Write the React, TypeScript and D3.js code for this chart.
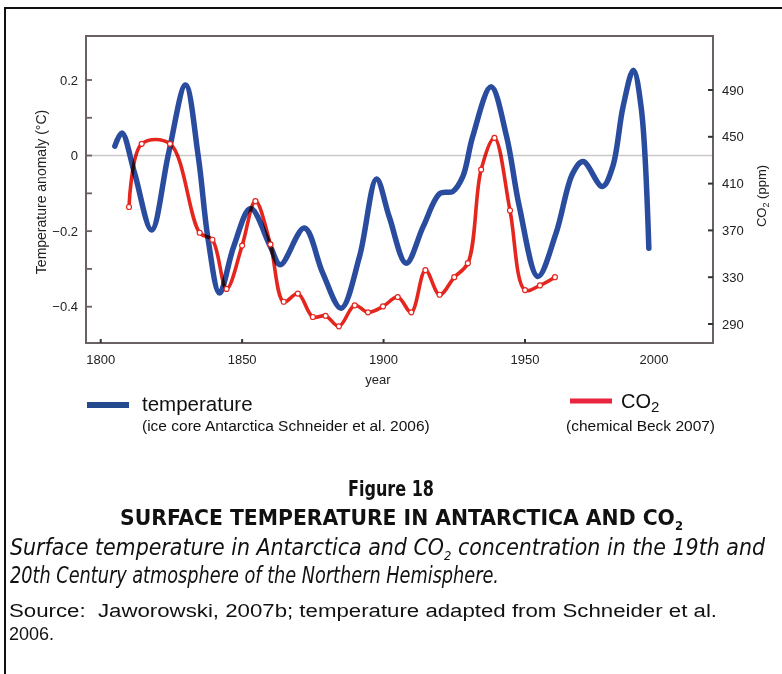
import * as d3 from "d3";

// temperature anomaly (°C), ice core Antarctica
const tempYears = [
  1805, 1807.5, 1812, 1818, 1824, 1830, 1834.5, 1838, 1842, 1847, 1853, 1860,
  1863.5, 1872, 1878.5, 1885, 1891.5, 1897.5, 1902, 1908, 1914, 1920, 1924.5,
  1928, 1931.5, 1938, 1943.5, 1948, 1955, 1962, 1968.5, 1972.5, 1980, 1984,
  1988, 1992, 1995, 1998,
];
const tempValues = [
  0.025, 0.06, -0.047, -0.197, 0.006, 0.187, -0.003, -0.223, -0.364, -0.241,
  -0.14, -0.241, -0.289, -0.192, -0.311, -0.404, -0.267, -0.062, -0.162,
  -0.285, -0.188, -0.1, -0.095, -0.056, 0.05, 0.182, 0.05, -0.135, -0.32,
  -0.206, -0.047, -0.016, -0.082, -0.029, 0.129, 0.226, 0.129, -0.245,
];

// CO2 (ppm), chemical measurements (Beck 2007)
const co2Years = [
  1810, 1814.5, 1824.5, 1835, 1839.5, 1844.5, 1850, 1854.7, 1860, 1864.7,
  1869.7, 1875, 1879.5, 1884.2, 1889.8, 1894.5, 1899.8, 1905, 1909.8, 1914.8,
  1919.8, 1925, 1929.8, 1934.5, 1939.2, 1944.7, 1950, 1955.8, 1961.6,
];
const co2Values = [
  390, 444, 444, 368, 362, 320, 357, 395, 358, 309, 316, 296, 297, 288, 306,
  300, 305, 313, 300, 336, 315, 330, 342, 422, 449, 387, 319, 323, 330,
];

const yearTicks = [1800, 1850, 1900, 1950];
const yearLabels = [1800, 1850, 1900, 1950, 2000];
const tempTicks = [0.2, 0.1, 0, -0.1, -0.2, -0.3, -0.4];
const tempLabels = [0.2, 0, -0.2, -0.4];
const co2Ticks = [490, 450, 410, 370, 330, 290];

const BLUE = "#2a4c9e";
const RED = "#e4261f";
const AXIS = "#6a6262";
const SANS = "'Liberation Sans', Arial, Helvetica, sans-serif";
const NARROW = "'Liberation Sans Narrow', 'DejaVu Sans Condensed', 'Liberation Sans', sans-serif";

const frame = { left: 86, right: 713, top: 36, bottom: 343 };

export default function App() {
  // the original x axis is not quite uniform past 1950
  const x = d3.scaleLinear().domain([1800, 1950, 2000]).range([100.7, 525, 654]);
  const yT = d3.scaleLinear().domain([0.2, -0.4]).range([80, 306.7]);
  const yC = d3.scaleLinear().domain([490, 290]).range([90, 324]);

  const tempPts = tempYears.map((yr, i) => [yr, tempValues[i]] as [number, number]);
  const co2Pts = co2Years.map((yr, i) => [yr, co2Values[i]] as [number, number]);

  const tempLine = d3
    .line<[number, number]>()
    .x((d) => x(d[0]))
    .y((d) => yT(d[1]))
    .curve(d3.curveCatmullRom.alpha(0.5));
  const co2Line = d3
    .line<[number, number]>()
    .x((d) => x(d[0]))
    .y((d) => yC(d[1]))
    .curve(d3.curveCatmullRom.alpha(0.5));

  const fmt = (v: number) => (v === 0 ? "0" : v < 0 ? "\u2212" + Math.abs(v).toFixed(1) : v.toFixed(1));

  return (
    <svg
      width={782}
      height={674}
      style={{ position: "absolute", left: 0, top: 0, background: "#fff" }}
    >
      <rect x={0} y={0} width={782} height={674} fill="#fff" />
      {/* page box, cut off at right and bottom */}
      <rect x={5} y={8} width={800} height={700} fill="none" stroke="#111" strokeWidth={2} />

      {/* zero reference line */}
      <line x1={frame.left} x2={frame.right} y1={yT(0)} y2={yT(0)} stroke="#c9c9c9" strokeWidth={1.5} />

      {/* plot frame */}
      <path
        d={`M${frame.left},${frame.bottom}V${frame.top}H${frame.right}V${frame.bottom}Z`}
        fill="none"
        stroke={AXIS}
        strokeWidth={2}
      />

      {/* left axis */}
      {tempTicks.map((t) => (
        <line key={t} x1={frame.left} x2={frame.left + 6} y1={yT(t)} y2={yT(t)} stroke={AXIS} strokeWidth={1.8} />
      ))}
      {tempLabels.map((t) => (
        <text key={t} x={78} y={yT(t)} dy="0.35em" textAnchor="end" fontFamily={SANS} fontSize={13} fill="#222">
          {fmt(t)}
        </text>
      ))}
      <text
        transform={`translate(46,192) rotate(-90)`}
        textAnchor="middle"
        fontFamily={SANS}
        fontSize={14}
        fill="#222"
      >
        Temperature anomaly (°C)
      </text>

      {/* right axis */}
      {co2Ticks.map((c) => (
        <line key={c} x1={frame.right - 5} x2={frame.right} y1={yC(c)} y2={yC(c)} stroke="#333" strokeWidth={2} />
      ))}
      {co2Ticks.map((c) => (
        <text key={c} x={722} y={yC(c)} dy="0.35em" fontFamily={SANS} fontSize={13} fill="#222">
          {c}
        </text>
      ))}
      <text transform={`translate(766,196) rotate(-90)`} textAnchor="middle" fontFamily={SANS} fontSize={13} fill="#222">
        CO
        <tspan dy={3} fontSize={9}>2</tspan>
        <tspan dy={-3}> (ppm)</tspan>
      </text>

      {/* bottom axis */}
      {yearTicks.map((yr) => (
        <line key={yr} x1={x(yr)} x2={x(yr)} y1={frame.bottom} y2={frame.bottom - 4} stroke="#333" strokeWidth={2} />
      ))}
      {yearLabels.map((yr) => (
        <text key={yr} x={x(yr)} y={359} dy="0.35em" textAnchor="middle" fontFamily={SANS} fontSize={13} fill="#222">
          {yr}
        </text>
      ))}
      <text x={378} y={379} dy="0.35em" textAnchor="middle" fontFamily={SANS} fontSize={13} fill="#222">
        year
      </text>

      {/* series */}
      <path d={tempLine(tempPts) ?? ""} fill="none" stroke={BLUE} strokeWidth={5.5} strokeLinecap="round" />
      <path
        d={co2Line(co2Pts) ?? ""}
        fill="none"
        stroke={RED}
        strokeWidth={3.6}
        strokeLinecap="round"
        style={{ mixBlendMode: "multiply" }}
      />
      {co2Pts.map((d, i) => (
        <circle key={i} cx={x(d[0])} cy={yC(d[1])} r={2.5} fill="#fff" stroke={RED} strokeWidth={1.2} />
      ))}

      {/* legend */}
      <line x1={87} x2={129} y1={405} y2={405} stroke="#234a8c" strokeWidth={6} />
      <text x={142} y={411} fontFamily={SANS} fontSize={20.5} fill="#111">
        temperature
      </text>
      <text x={142} y={431} fontFamily={SANS} fontSize={15.5} fill="#111">
        (ice core Antarctica Schneider et al. 2006)
      </text>
      <line x1={570} x2={612} y1={401} y2={401} stroke="#e8253d" strokeWidth={5} />
      <text x={621} y={408} fontFamily={SANS} fontSize={20} fill="#111">
        CO<tspan dy={4} fontSize={15}>2</tspan>
      </text>
      <text x={566} y={431} fontFamily={SANS} fontSize={15.5} fill="#111">
        (chemical Beck 2007)
      </text>

      {/* caption */}
      <text
        x={348}
        y={496}
        textLength={86}
        lengthAdjust="spacingAndGlyphs"
        fontFamily={NARROW}
        fontWeight="bold"
        fontSize={21}
        fill="#111"
      >
        Figure 18
      </text>
      <text
        x={120}
        y={525}
        textLength={563}
        lengthAdjust="spacingAndGlyphs"
        fontFamily={NARROW}
        fontWeight="bold"
        fontSize={21}
        fill="#111"
      >
        SURFACE TEMPERATURE IN ANTARCTICA AND CO
        <tspan dy={5} fontSize={12}>2</tspan>
      </text>
      <text
        x={10}
        y={555}
        textLength={755}
        lengthAdjust="spacingAndGlyphs"
        fontFamily={NARROW}
        fontStyle="italic"
        fontSize={23}
        fill="#111"
      >
        Surface temperature in Antarctica and CO
        <tspan dy={5} fontSize={13}>2</tspan>
        <tspan dy={-5}> concentration in the 19th and</tspan>
      </text>
      <text
        x={10}
        y={583}
        textLength={489}
        lengthAdjust="spacingAndGlyphs"
        fontFamily={NARROW}
        fontStyle="italic"
        fontSize={23}
        fill="#111"
      >
        20th Century atmosphere of the Northern Hemisphere.
      </text>
      <text
        x={9}
        y={617}
        textLength={708}
        lengthAdjust="spacingAndGlyphs"
        fontFamily={SANS}
        fontSize={18}
        fill="#111"
        style={{ whiteSpace: "pre" }}
      >
        {"Source:  Jaworowski, 2007b; temperature adapted from Schneider et al."}
      </text>
      <text x={9} y={640} fontFamily={SANS} fontSize={18} fill="#111">
        2006.
      </text>
    </svg>
  );
}
